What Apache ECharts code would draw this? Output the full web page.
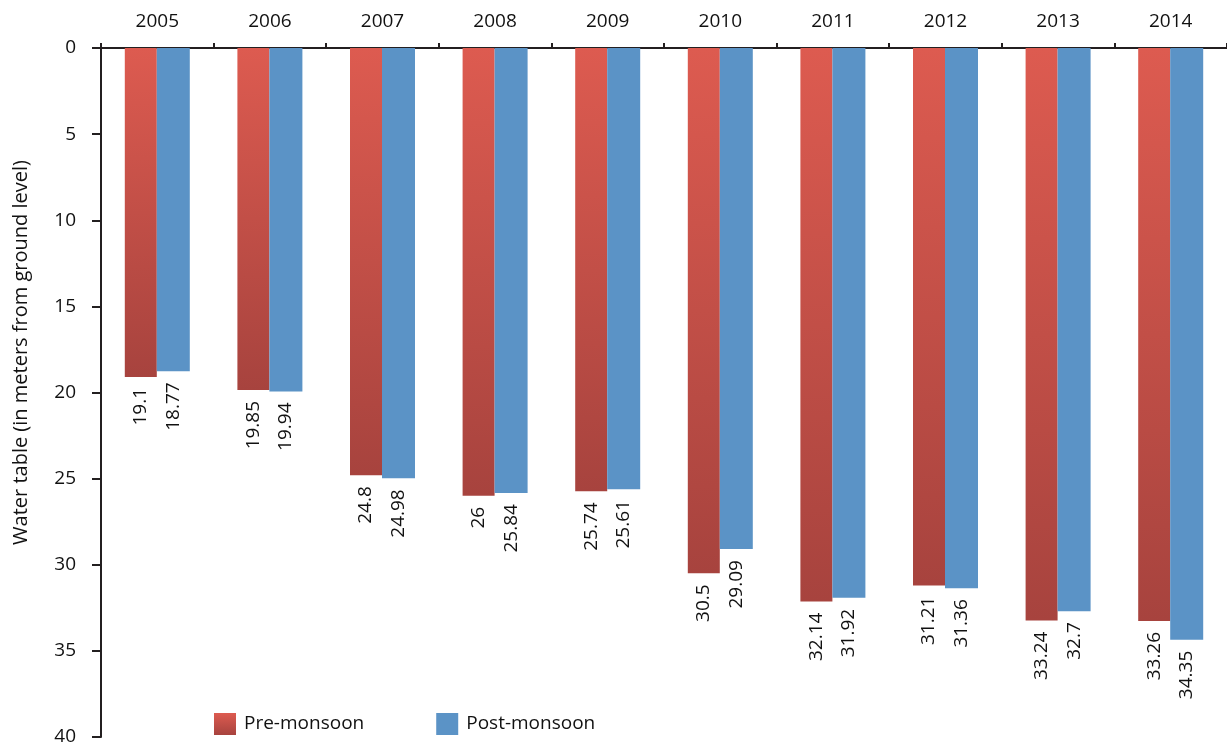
<!DOCTYPE html>
<html lang="en">
<head>
  <meta charset="UTF-8">
  <title>Water table</title>
  <script src="https://cdnjs.cloudflare.com/ajax/libs/echarts/6.0.0/echarts.min.js"></script>
  <style>
    body { margin: 0; background: #fff; }
    #chart { width: 1227px; height: 748px; }
  </style>
</head>
<body>
  <div id="chart"></div>
  <script>
    // data
    const years = ['2005', '2006', '2007', '2008', '2009', '2010', '2011', '2012', '2013', '2014'];
    const preMonsoon = [19.1, 19.85, 24.8, 26, 25.74, 30.5, 32.14, 31.21, 33.24, 33.26];
    const postMonsoon = [18.77, 19.94, 24.98, 25.84, 25.61, 29.09, 31.92, 31.36, 32.7, 34.35];

    const chart = echarts.init(document.getElementById('chart'));
    const font = '"Open Sans", "Noto Sans", sans-serif';

    const valueLabel = {
      show: true,
      position: 'bottom',
      rotate: 90,
      align: 'right',
      verticalAlign: 'middle',
      distance: 11,
      color: '#111',
      fontSize: 19,
      fontFamily: font
    };

    chart.setOption({
      animation: false,
      textStyle: { fontFamily: font },
      grid: { left: 101, right: -3, top: 48, bottom: 11, containLabel: false },
      legend: {
        bottom: 8,
        left: 209,
        icon: 'rect',
        itemWidth: 22,
        itemHeight: 22,
        itemGap: 72,
        textStyle: { fontSize: 19, color: '#111', fontFamily: font, padding: [0, 0, 0, 3] },
        data: ['Pre-monsoon', 'Post-monsoon']
      },
      xAxis: {
        type: 'category',
        position: 'top',
        data: years,
        axisLine: { lineStyle: { color: '#231f20', width: 2 } },
        axisTick: { show: true, length: 5, lineStyle: { color: '#231f20', width: 2 } },
        axisLabel: { color: '#111', fontSize: 19, margin: 17, fontFamily: font }
      },
      yAxis: {
        type: 'value',
        inverse: true,
        min: 0,
        max: 40,
        interval: 5,
        name: 'Water table (in meters from ground level)',
        nameLocation: 'middle',
        nameGap: 70,
        nameTextStyle: { fontSize: 20, color: '#111', fontFamily: font, padding: [0, 0, 0, 80] },
        axisLine: { show: true, lineStyle: { color: '#231f20', width: 2 } },
        axisTick: { show: true, length: 9, lineStyle: { color: '#231f20', width: 2 } },
        axisLabel: { color: '#111', fontSize: 19, margin: 25, fontFamily: font },
        splitLine: { show: false }
      },
      series: [
        {
          name: 'Pre-monsoon',
          type: 'bar',
          data: preMonsoon,
          barWidth: 32,
          barGap: '0%',
          itemStyle: {
            color: new echarts.graphic.LinearGradient(0, 0, 0, 1, [
              { offset: 0, color: '#dd5b50' },
              { offset: 1, color: '#a7433e' }
            ])
          },
          label: valueLabel
        },
        {
          name: 'Post-monsoon',
          type: 'bar',
          data: postMonsoon,
          barWidth: 33,
          itemStyle: { color: '#5b93c6' },
          label: valueLabel
        }
      ]
    });
  </script>
</body>
</html>
